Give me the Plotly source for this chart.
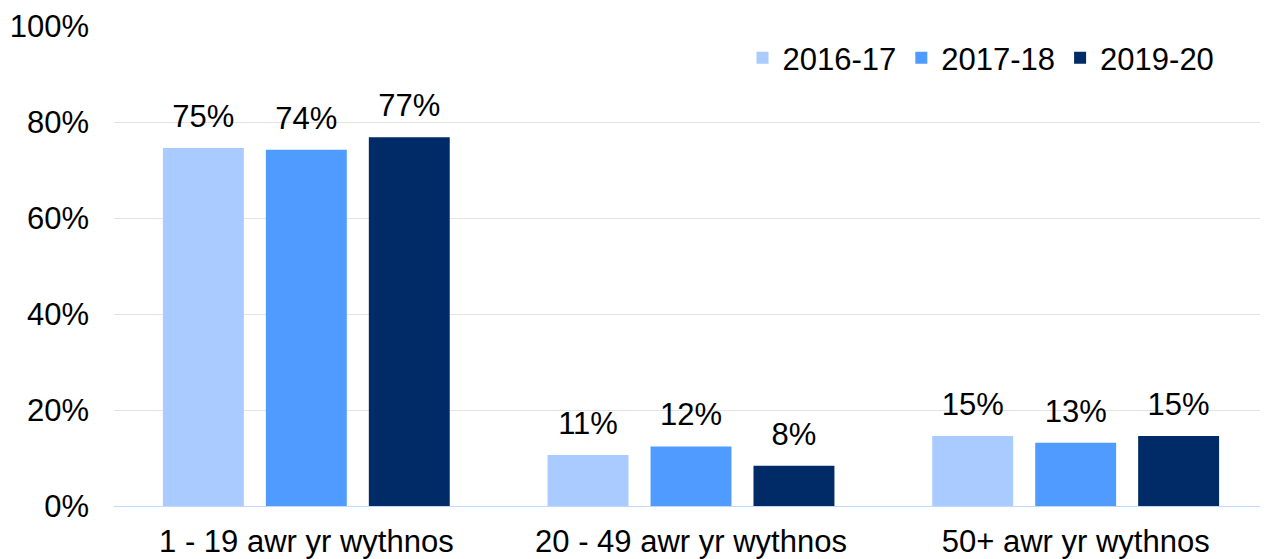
import plotly.graph_objects as go

categories = ["1 - 19 awr yr wythnos", "20 - 49 awr yr wythnos", "50+ awr yr wythnos"]
series_names = ["2016-17", "2017-18", "2019-20"]
values_2016_17 = [74.6, 10.6, 14.6]
values_2017_18 = [74.2, 12.4, 13.2]
values_2019_20 = [76.8, 8.4, 14.6]
tick_vals = [0, 20, 40, 60, 80, 100]
tick_text = ["0%", "20%", "40%", "60%", "80%", "100%"]

colors = ["#A9CBFF", "#4F9BFF", "#002B66"]
series = [values_2016_17, values_2017_18, values_2019_20]

FONT = "Liberation Sans, Arial, sans-serif"
FS = 31
LABEL_GAP = 2.3  # gap (axis units) between bar top and its value label

fig = go.Figure()
for i, (name, vals, col) in enumerate(zip(series_names, series, colors)):
    fig.add_trace(go.Bar(
        x=categories, y=vals, name=name, offsetgroup=str(i),
        marker=dict(color=col, line=dict(width=0)),
        hoverinfo="x+y",
    ))
    # transparent spacer bar carrying the value label above the real bar
    fig.add_trace(go.Bar(
        x=categories, y=[LABEL_GAP] * len(vals), base=vals, offsetgroup=str(i),
        marker=dict(color="rgba(0,0,0,0)", line=dict(width=0)),
        text=[f"{round(v)}%" for v in vals],
        textposition="outside", cliponaxis=False, showlegend=False,
        hoverinfo="skip",
        textfont=dict(size=FS, color="#000000", family=FONT),
    ))

fig.update_layout(
    width=1260, height=551,
    margin=dict(l=106, r=0, t=18, b=53),
    paper_bgcolor="white", plot_bgcolor="white",
    barmode="group", bargap=0.197, bargroupgap=0.214,
    font=dict(family=FONT, size=FS, color="#000000"),
    showlegend=True,
    legend=dict(orientation="h", x=0.958, xanchor="right", y=0.933, yanchor="middle",
                font=dict(size=FS, color="#000000"), itemwidth=30,
                traceorder="normal", bgcolor="rgba(0,0,0,0)"),
    xaxis=dict(showgrid=False, showline=True, linecolor="#BFD9FF", linewidth=1,
               ticks="", tickfont=dict(size=FS), automargin=False,
               ticklabelstandoff=8),
    yaxis=dict(range=[0, 100], tickvals=tick_vals, ticktext=tick_text,
               showgrid=True, gridcolor="#E3E3E3", gridwidth=1, zeroline=False,
               ticks="", tickfont=dict(size=FS), ticklabelstandoff=24,
               automargin=False),
)

fig.write_html("out.html")
